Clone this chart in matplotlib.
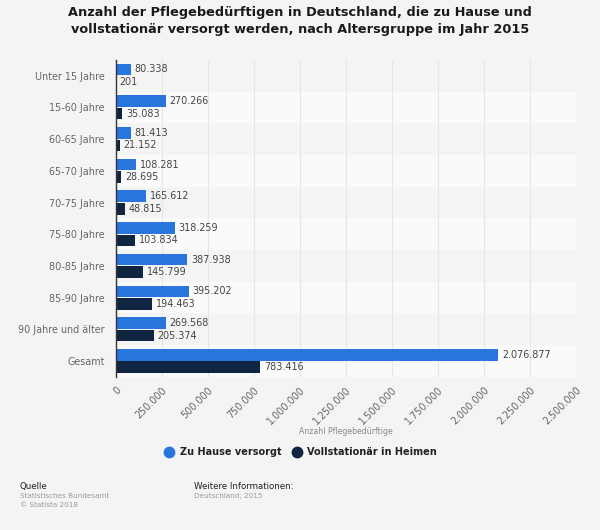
import matplotlib
matplotlib.use("Agg")
import matplotlib.pyplot as plt
import numpy as np
from matplotlib.lines import Line2D

categories = ["Unter 15 Jahre", "15-60 Jahre", "60-65 Jahre", "65-70 Jahre", "70-75 Jahre",
              "75-80 Jahre", "80-85 Jahre", "85-90 Jahre", "90 Jahre und älter", "Gesamt"]
zu_hause = [80338, 270266, 81413, 108281, 165612, 318259, 387938, 395202, 269568, 2076877]
heime = [201, 35083, 21152, 28695, 48815, 103834, 145799, 194463, 205374, 783416]
xticks = [0, 250000, 500000, 750000, 1000000, 1250000, 1500000, 1750000, 2000000, 2250000, 2500000]

def fmt(v):
    return f"{v:,}".replace(",", ".")

plt.rcParams['font.family'] = ['DejaVu Sans']
bg = "#f4f4f4"
fig = plt.figure(figsize=(6, 5.3), dpi=100, facecolor=bg)
ax = fig.add_axes([0.1933, 0.289, 0.7667, 0.598])
ax.set_facecolor(bg)

n = len(categories)
y = np.arange(n)
h = 0.365
off = h / 2 + 0.015
for i in range(n):
    if i % 2 == 1:
        ax.axhspan(i - 0.5, i + 0.5, color="#fafafa", zorder=0, lw=0)
for xt in xticks[1:]:
    ax.axvline(xt, color="#e6e6e6", lw=0.8, zorder=1)

ax.barh(y - off, zu_hause, height=h, color="#2876dd", zorder=2)
ax.barh(y + off, heime, height=h, color="#0f2541", zorder=2)
for i in range(n):
    ax.text(zu_hause[i] + 20000, y[i] - off, fmt(zu_hause[i]), va="center", ha="left",
            fontsize=6.9, color="#444444", zorder=3)
    ax.text(heime[i] + 20000, y[i] + off, fmt(heime[i]), va="center", ha="left",
            fontsize=6.9, color="#444444", zorder=3)

ax.set_ylim(n - 0.5, -0.5)
ax.set_xlim(0, 2500000)
ax.set_yticks(y)
ax.set_yticklabels(categories, fontsize=6.9, color="#666666")
ax.set_xticks(xticks)
ax.set_xticklabels([fmt(v) for v in xticks], rotation=45, ha="right", rotation_mode="anchor",
                   fontsize=6.9, color="#666666")
ax.tick_params(axis="y", length=0, pad=8)
ax.tick_params(axis="x", length=0, pad=6)
for s in ["top", "right", "bottom"]:
    ax.spines[s].set_visible(False)
ax.spines["left"].set_color("#333333")
ax.spines["left"].set_linewidth(1)
ax.spines["left"].set_zorder(4)

fig.text(0.577, 0.181, "Anzahl Pflegebedürftige", ha="center", fontsize=5.6, color="#888888")

fig.text(0.5, 0.988, "Anzahl der Pflegebedürftigen in Deutschland, die zu Hause und\nvollstationär versorgt werden, nach Altersgruppe im Jahr 2015",
         ha="center", va="top", fontsize=9.3, fontweight="bold", color="#1a1a1a", linespacing=1.35)

handles = [Line2D([0], [0], marker="o", ls="", markersize=7.5, color="#2876dd"),
           Line2D([0], [0], marker="o", ls="", markersize=7.5, color="#0f2541")]
fig.legend(handles, ["Zu Hause versorgt", "Vollstationär in Heimen"], loc="center",
           bbox_to_anchor=(0.497, 0.147), ncol=2, frameon=False, handletextpad=0.05,
           columnspacing=0.6, prop={"size": 7, "weight": "bold"}, labelcolor="#222222")

fig.text(0.033, 0.078, "Quelle", fontsize=6.2, color="#222222")
fig.text(0.033, 0.060, "Statistisches Bundesamt", fontsize=5.2, color="#999999")
fig.text(0.033, 0.043, "© Statista 2018", fontsize=5.2, color="#999999")
fig.text(0.323, 0.078, "Weitere Informationen:", fontsize=6.2, color="#222222")
fig.text(0.323, 0.060, "Deutschland; 2015", fontsize=5.2, color="#999999")

fig.savefig("out.png", dpi=100, facecolor=bg)
